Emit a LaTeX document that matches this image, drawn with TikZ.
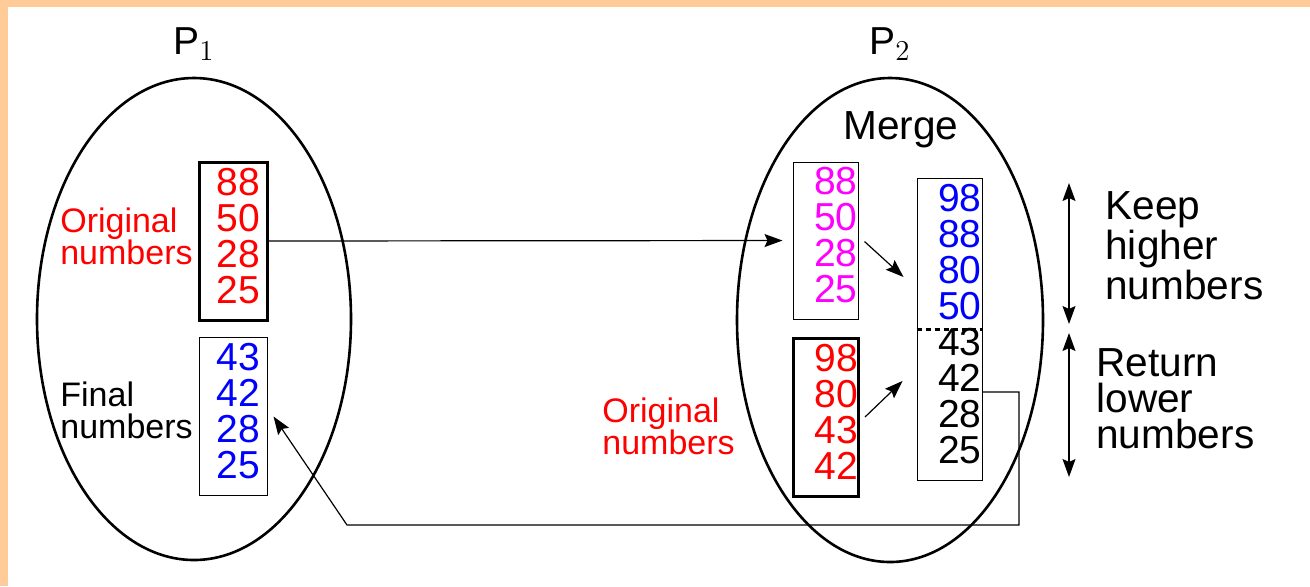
\documentclass[tikz,border=0pt]{standalone}
\usepackage{fontspec}
\setmainfont{Liberation Sans}
\usetikzlibrary{arrows.meta,positioning,calc,shapes.geometric}
\definecolor{framebg}{RGB}{255,204,153}
\definecolor{recvcol}{RGB}{255,0,255}
\definecolor{hicol}{RGB}{0,0,255}
\definecolor{origcol}{RGB}{255,0,0}
\newcommand{\numsize}{\fontsize{19.5}{18}\selectfont}
\newcommand{\lblsize}{\fontsize{17}{16}\selectfont}
\newcommand{\txtsize}{\fontsize{20.3}{17.9}\selectfont}
\newcommand{\hinum}[1]{\textcolor{hicol}{#1}}

\begin{document}
\begin{tikzpicture}[x=0.5pt,y=-0.5pt,
  >={Stealth[length=9pt,width=6.5pt,inset=1.5pt]},
  proc/.style={draw, ellipse, line width=1.3pt, inner sep=0pt},
  numcol/.style={draw, align=right, inner ysep=1pt, font=\numsize, execute at end node=\strut},
  leftcol/.style={numcol, minimum height=79pt, text width=26.7pt, inner xsep=3.65pt},
  rightcol/.style={numcol, text width=31.9pt, inner xsep=0.3pt},
  thickcol/.style={line width=1.5pt},
  thincol/.style={line width=0.5pt},
  note/.style={inner sep=0pt, align=left, font=\lblsize},
  side/.style={inner sep=0pt, align=left, font=\txtsize},
  link/.style={->, line width=0.6pt}]
\fill[white] (0,0) rectangle (1310,586);
\fill[framebg] (0,0) rectangle (1310,7);
\fill[framebg] (0,0) rectangle (8,586);
\useasboundingbox (0,0) rectangle (1310,586);

% the two processes
\node[proc, minimum width=157pt, minimum height=241pt,
  label={[font=\numsize, inner sep=0pt, label distance=8pt]above:{P$_1$}}] (proc1) at (194,319) {};
\node[proc, minimum width=153pt, minimum height=242pt,
  label={[font=\numsize, inner sep=0pt, label distance=8pt]above:{P$_2$}}] (proc2) at (890,320) {};

% number columns
\node[leftcol, thickcol, text=origcol] (orig1) at (233,241) {88\\50\\28\\25};
\node[leftcol, thincol, text=hicol] (final) at (233,416.5) {43\\42\\28\\25};
\node[rightcol, thincol, minimum height=78.5pt, text=recvcol] (recv) at (825.5,240.5) {88\\50\\28\\25};
\node[rightcol, thickcol, minimum height=79pt, text=origcol] (orig2) at (826,417) {98\\80\\43\\42};
\node[rightcol, thincol, minimum height=151pt] (merged) at (949.5,329)
  {\hinum{98}\\\hinum{88}\\\hinum{80}\\\hinum{50}\\43\\42\\28\\25};
\draw[line width=1.5pt, dash pattern=on 2.5pt off 2pt] (merged.west) -- (merged.east);

% labels
\node[note, text=origcol, anchor=east] (lbl1) at (193,236) {Original\\numbers};
\node[note, anchor=west] (lbl2) at (60,410) {Final\\numbers};
\node[note, text=origcol, anchor=west] (lbl3) at (602,426) {Original\\numbers};
\node[font=\txtsize, inner sep=0pt] (merge) at (901,130) {Merge};
\node[side, anchor=west] (keep) at (1105,246) {Keep\\higher\\numbers};
\node[side, anchor=west] (ret) at (1096,399) {Return\\lower\\numbers};

% connectors
\draw[link, shorten >=5pt] (orig1.east) -- (recv.west);
\draw[link] ($(recv.east)+(6,1)$) -- ($(merged.west)+(-13,-52)$);
\draw[link] ($(orig2.east)+(5,0)$) -- ($(merged.west)+(-14,52)$);
\coordinate (retR) at (1019,525);
\coordinate (retL) at (347,525);
\draw[link] ($(merged.east)+(0,63)$) -| (retR) -- (retL) -- ($(final.east)+(6,0)$);
\coordinate (keepT) at (1069,183);
\coordinate (keepB) at (1069,324);
\coordinate (retT) at (1069,333);
\coordinate (retB) at (1069,477);
\draw[link, <->] (keepT) -- (keepB);
\draw[link, <->] (retT) -- (retB);
\end{tikzpicture}
\end{document}
